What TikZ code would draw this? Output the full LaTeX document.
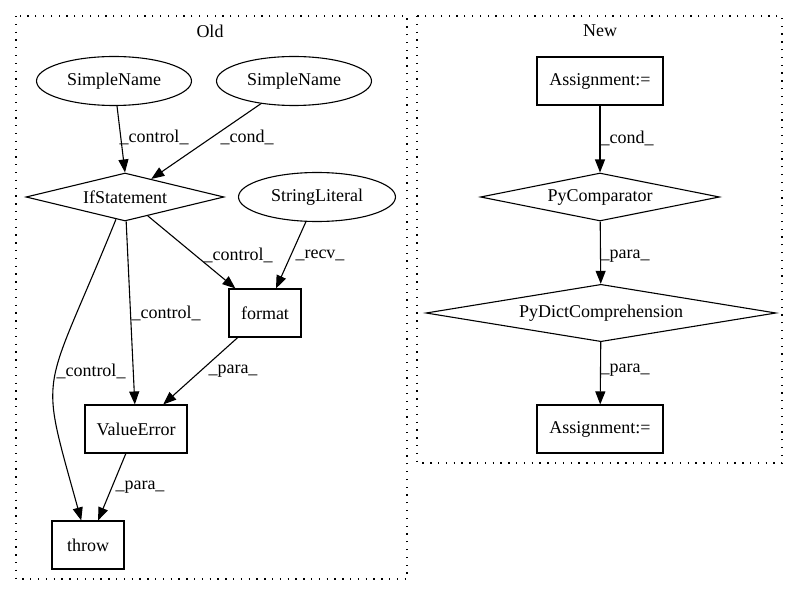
\documentclass[tikz,border=0pt]{standalone}
\usepackage{fontspec}
\setmainfont{Liberation Serif}
\usetikzlibrary{shapes.geometric,arrows.meta}
\begin{document}
\begin{tikzpicture}[x=1pt,y=-1pt,
  every node/.style={font=\fontsize{18}{21}\selectfont, inner sep=0pt},
  ell/.style={draw, ellipse, line width=1.1pt, minimum width=155pt, minimum height=49pt},
  dia/.style={draw, diamond, aspect=4, line width=1.1pt, minimum height=48pt},
  box/.style={draw, rectangle, line width=1.1pt, minimum height=48pt},
  conn/.style={draw, line width=1.1pt, -{Triangle[length=13pt,width=10pt]}},
  cluster/.style={draw, line width=1.3pt, dash pattern=on 1.3pt off 6.5pt}]
\useasboundingbox (0,0) rectangle (799,596);
% clusters
\draw[cluster] (16,16) rectangle (407,579);
\draw[cluster] (417,16) rectangle (782,463);
\node (oldlabel) at (210,31) {Old};
\node (newlabel) at (600,31) {New};
% Old nodes
\node[ell] (sn1) at (114,81) {SimpleName};
\node[ell] (sn2) at (294,81) {SimpleName};
\node[dia, minimum width=198pt] (if) at (125,197) {IfStatement};
\node[ell, minimum width=157pt] (sl) at (317,197) {StringLiteral};
\node[box, minimum width=72pt] (fmt) at (265,313) {format};
\node[box, minimum width=102pt] (ve) at (136,429) {ValueError};
\node[box, minimum width=72pt] (thr) at (88,545) {throw};
% New nodes
\node[box, minimum width=126pt] (as1) at (600,81) {Assignment:=};
\node[dia, minimum width=239pt] (pc) at (600,197) {PyComparator};
\node[dia, minimum width=350pt] (pd) at (601,313) {PyDictComprehension};
\node[box, minimum width=126pt] (as2) at (600,429) {Assignment:=};
% Old edges
\draw[conn] (sn1) -- (if.north);
\draw[conn] (sn2) -- (if);
\draw[conn] (if) -- (fmt);
\draw[conn] (sl) -- (fmt);
\draw[conn] (if) -- (ve);
\draw[conn] (fmt) -- (ve);
\draw[conn] (ve) -- (thr);
\draw[conn] (if) .. controls (42,402) and (38,364) .. (thr);
% New edges
\draw[conn] (as1) -- (pc);
\draw[conn] (pc) -- (pd);
\draw[conn] (pd) -- (as2);
% labels
\node (l1) at (154,137) {\_control\_};
\node (l2) at (247,137) {\_cond\_};
\node (l3) at (238,255) {\_control\_};
\node (l4) at (320,255) {\_recv\_};
\node (l5) at (166,313) {\_control\_};
\node (l6) at (91,371) {\_control\_};
\node (l7) at (233,371) {\_para\_};
\node (l8) at (140,487) {\_para\_};
\node (l9) at (627,138) {\_cond\_};
\node (l10) at (625,256) {\_para\_};
\node (l11) at (625,370) {\_para\_};
\end{tikzpicture}
\end{document}
